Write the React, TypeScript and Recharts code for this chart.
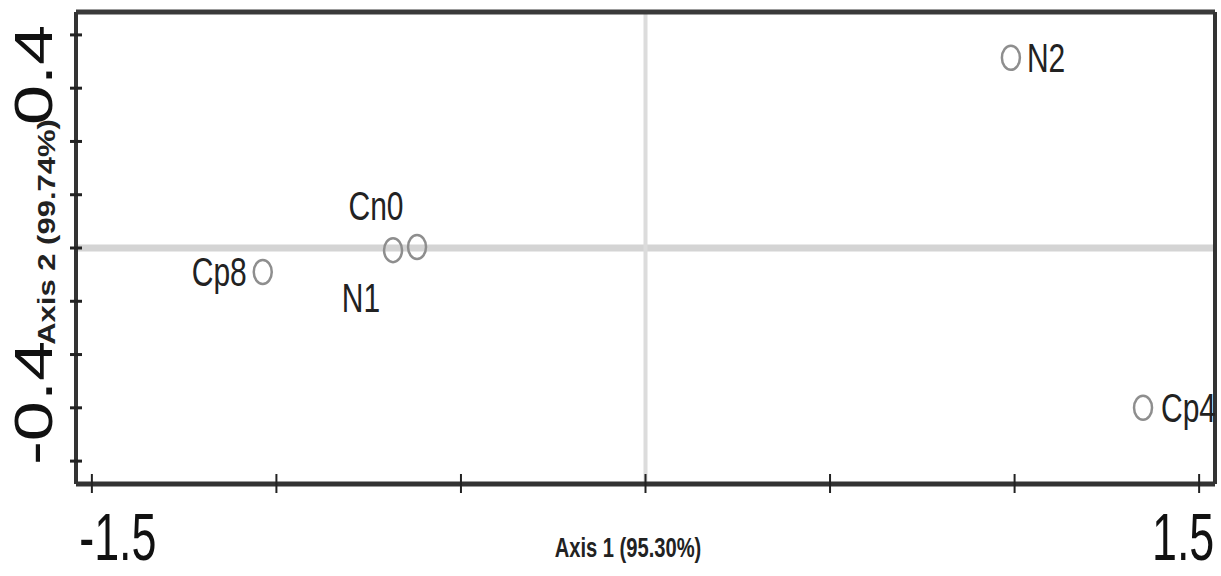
import React from 'react';
import { ScatterChart, Scatter, XAxis, YAxis, ReferenceLine } from 'recharts';

// sample scores on the two ordination axes
const sampleNames = ['N2', 'Cp4', 'Cp8', 'N1', 'Cn0'];
const axis1Scores = [0.99, 1.348, -1.037, -0.684, -0.619];
const axis2Scores = [0.357, -0.3, -0.045, -0.004, 0.002];

const xTicks = [-1.5, -1, -0.5, 0, 0.5, 1, 1.5];
const yTicks = [-0.4, -0.3, -0.2, -0.1, 0, 0.1, 0.2, 0.3, 0.4];
const xTickLabels: Record<string, string> = { '-1.5': '-1.5', '1.5': '1.5' };
const yTickLabels: Record<string, string> = { '0.4': '0.4', '-0.4': '-0.4' };

const xDomain: [number, number] = [-1.543, 1.543];
const yDomain: [number, number] = [-0.443, 0.443];

// where each sample name sits around its marker
const labelPlacement: Record<string, { dx: number; dy: number; anchor: 'start' | 'middle' | 'end' }> = {
  N2: { dx: 16, dy: 0, anchor: 'start' },
  Cp4: { dx: 18, dy: 0, anchor: 'start' },
  Cp8: { dx: -16, dy: 0, anchor: 'end' },
  N1: { dx: -32, dy: 47, anchor: 'middle' },
  Cn0: { dx: -41, dy: -41, anchor: 'middle' },
};

const data = sampleNames.map((name, i) => ({
  name,
  x: axis1Scores[i],
  y: axis2Scores[i],
}));

const FONT = '"Liberation Sans", Arial, sans-serif';
const SQUEEZE = 0.75;

const PointShape = (props: any) => {
  const { cx, cy, payload } = props;
  const place = labelPlacement[payload.name];
  return (
    <g>
      <ellipse cx={cx} cy={cy} rx={9} ry={12} fill="none" stroke="#8e8e8e" strokeWidth={2.5} />
      <text
        transform={`translate(${cx + place.dx},${cy + place.dy}) scale(${SQUEEZE},1)`}
        textAnchor={place.anchor}
        dy="0.36em"
        fontFamily={FONT}
        fontSize={40}
        fill="#222"
      >
        {payload.name}
      </text>
    </g>
  );
};

const XTick = (props: any) => {
  const { x, y, payload } = props;
  const label = xTickLabels[String(payload.value)];
  const shift = payload.value < 0 ? 26 : -16;
  return (
    <g>
      <line x1={x} x2={x} y1={y - 10} y2={y + 9} stroke="#222" strokeWidth={2} />
      {label && (
        <text
          transform={`translate(${x + shift},${y + 76}) scale(0.68,1)`}
          textAnchor="middle"
          fontFamily={FONT}
          fontSize={66}
          fill="#111"
        >
          {label}
        </text>
      )}
    </g>
  );
};

const YTick = (props: any) => {
  const { x, y, payload } = props;
  const label = yTickLabels[String(payload.value)];
  const shift = payload.value > 0 ? 40 : -58;
  return (
    <g>
      <line x1={x - 6} x2={x + 6} y1={y} y2={y} stroke="#222" strokeWidth={3} />
      {label && (
        <text
          transform={`translate(${x - 24},${y + shift}) scale(${SQUEEZE},1) rotate(-90)`}
          textAnchor="middle"
          fontFamily={FONT}
          fontSize={72}
          fill="#111"
        >
          {label}
        </text>
      )}
    </g>
  );
};

export default function App() {
  return (
    <div style={{ position: 'relative', width: 1221, height: 576, background: '#fff' }}>
      <style>{'body{margin:0;}'}</style>
      <ScatterChart width={1221} height={576} margin={{ top: 12, right: 6, bottom: 91, left: 75 }}>
        <ReferenceLine y={0} stroke="#d4d4d4" strokeWidth={7} />
        <ReferenceLine x={0} stroke="#dcdcdc" strokeWidth={4} />
        <ReferenceLine y={yDomain[1]} stroke="#3a3a3a" strokeWidth={5} />
        <ReferenceLine x={xDomain[1]} stroke="#333" strokeWidth={4} />
        <XAxis
          type="number"
          dataKey="x"
          domain={xDomain}
          ticks={xTicks}
          allowDataOverflow
          height={1}
          tickSize={0}
          tickMargin={0}
          tickLine={false}
          tick={XTick}
          axisLine={{ stroke: '#333', strokeWidth: 5 }}
          interval={0}
        />
        <YAxis
          type="number"
          dataKey="y"
          domain={yDomain}
          ticks={yTicks}
          allowDataOverflow
          width={1}
          tickSize={0}
          tickMargin={0}
          tickLine={false}
          tick={YTick}
          axisLine={{ stroke: '#333', strokeWidth: 4 }}
          interval={0}
        />
        <Scatter data={data} shape={PointShape} isAnimationActive={false} />
      </ScatterChart>
      <svg
        width={1221}
        height={576}
        style={{ position: 'absolute', left: 0, top: 0, pointerEvents: 'none' }}
      >
        <text
          transform={`translate(628,557) scale(0.72,1)`}
          textAnchor="middle"
          fontFamily={FONT}
          fontWeight="bold"
          fontSize={28}
          fill="#222"
        >
          Axis 1 (95.30%)
        </text>
        <text
          transform={`translate(55,232) scale(${SQUEEZE},1) rotate(-90)`}
          textAnchor="middle"
          fontFamily={FONT}
          fontWeight="bold"
          fontSize={31}
          fill="#222"
        >
          Axis 2 (99.74%)
        </text>
      </svg>
    </div>
  );
}
